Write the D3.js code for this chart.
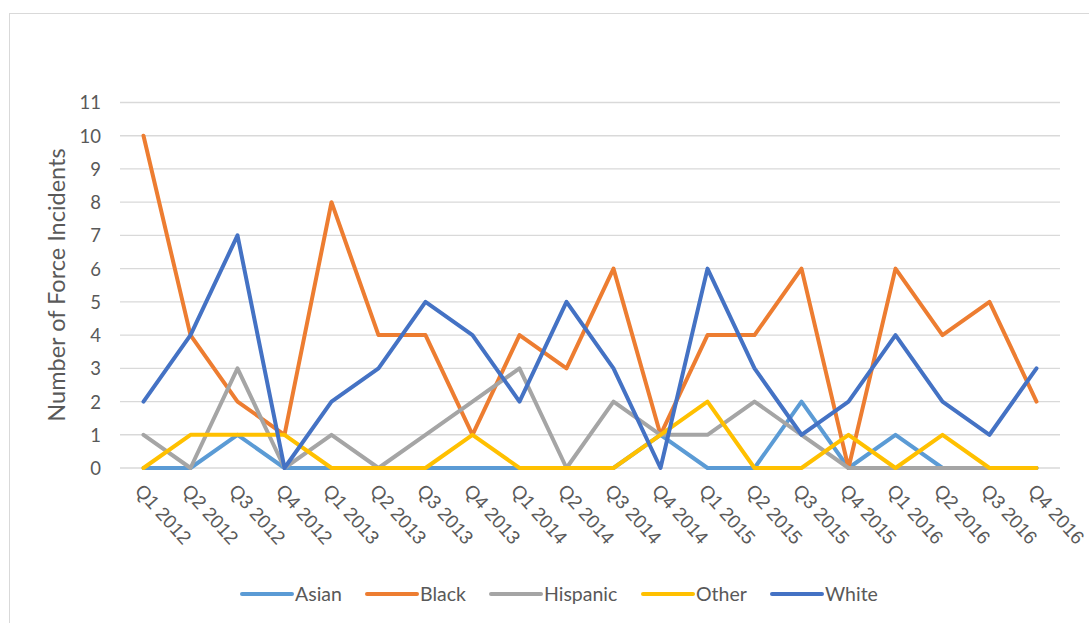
<!DOCTYPE html>
<html><head><meta charset="utf-8">
<script src="https://cdn.jsdelivr.net/npm/d3@7"></script>
<style>body{margin:0;background:#fff}svg{display:block;font-family:Lato,"Open Sans",sans-serif}</style>
</head><body>
<svg id="c" width="1089" height="623"></svg>
<script>
const quarters = ["Q1 2012","Q2 2012","Q3 2012","Q4 2012","Q1 2013","Q2 2013","Q3 2013","Q4 2013","Q1 2014","Q2 2014","Q3 2014","Q4 2014","Q1 2015","Q2 2015","Q3 2015","Q4 2015","Q1 2016","Q2 2016","Q3 2016","Q4 2016"];
const asian    = [0,0,1,0,0,0,0,0,0,0,0,1,0,0,2,0,1,0,0,0];
const black    = [10,4,2,1,8,4,4,1,4,3,6,1,4,4,6,0,6,4,5,2];
const hispanic = [1,0,3,0,1,0,1,2,3,0,2,1,1,2,1,0,0,0,0,0];
const other    = [0,1,1,1,0,0,0,1,0,0,0,1,2,0,0,1,0,1,0,0];
const white    = [2,4,7,0,2,3,5,4,2,5,3,0,6,3,1,2,4,2,1,3];
const seriesNames = ["Asian","Black","Hispanic","Other","White"];
const seriesColors = ["#5b9bd5","#ed7d31","#a5a5a5","#ffc000","#4472c4"];
const yTicks = d3.range(0,12);

const series = [asian,black,hispanic,other,white].map((v,i)=>({name:seriesNames[i],color:seriesColors[i],values:v}));
const svg = d3.select("#c");
svg.append("rect").attr("x",9.5).attr("y",13.5).attr("width",1100).attr("height",700)
  .attr("fill","none").attr("stroke","#d9d9d9").attr("stroke-width",1);

const x = d3.scalePoint().domain(quarters).range([120,1060]).padding(0.5);
const y = d3.scaleLinear().domain([0,11]).range([468,102.5]);

const g = svg.append("g");
g.selectAll("line.grid").data(yTicks).join("line")
  .attr("x1",120).attr("x2",1060).attr("y1",d=>y(d)).attr("y2",d=>y(d))
  .attr("stroke","#d9d9d9").attr("stroke-width",1.3);

const yAxis = g.append("g").attr("transform","translate(101,0)")
  .call(d3.axisLeft(y).tickValues(yTicks).tickSize(0).tickPadding(0));
yAxis.select(".domain").remove();
yAxis.selectAll("text").attr("font-size",18.5).attr("fill","#595959").attr("font-family","Lato,sans-serif").attr("dy","0.35em");

const xAxis = g.append("g").attr("transform","translate(0,487)")
  .call(d3.axisBottom(x).tickSize(0).tickPadding(0));
xAxis.select(".domain").remove();
xAxis.selectAll("text").attr("font-size",19).attr("fill","#595959")
  .attr("text-anchor","start").attr("dy","0.35em").attr("dx",0)
  .attr("transform","translate(-5,0) rotate(48)").attr("y",0);

svg.append("text").attr("transform","translate(57,285) rotate(-90)")
  .attr("text-anchor","middle").attr("dy","0.35em").attr("font-size",23.5).attr("fill","#595959").text("Number of Force Incidents");

const line = d3.line().x((d,i)=>x(quarters[i])).y(d=>y(d));
g.selectAll("path.s").data(series).join("path")
  .attr("d",d=>line(d.values)).attr("fill","none").attr("stroke",d=>d.color)
  .attr("stroke-width",4).attr("stroke-linejoin","round").attr("stroke-linecap","round");

const legendX = [242,367,491,643,772];
const lg = svg.append("g");
series.forEach((s,i)=>{
  lg.append("line").attr("x1",legendX[i]).attr("x2",legendX[i]+50).attr("y1",594).attr("y2",594)
    .attr("stroke",s.color).attr("stroke-width",4).attr("stroke-linecap","round");
  lg.append("text").attr("x",legendX[i]+53).attr("y",594).attr("dy","0.35em")
    .attr("font-size",19.5).attr("fill","#595959").text(s.name);
});
</script>
</body></html>
